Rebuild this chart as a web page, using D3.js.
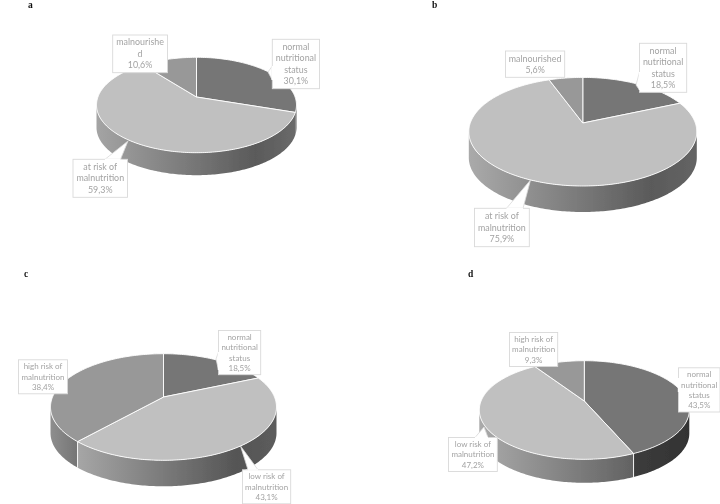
<!DOCTYPE html>
<html><head><meta charset="utf-8">
<script src="https://cdnjs.cloudflare.com/ajax/libs/d3/7.8.5/d3.min.js"></script>
<style>html,body{margin:0;padding:0;background:#fff}svg{display:block}</style>
</head><body><svg id="c" width="720" height="504"></svg>
<script>
// ---- data ----
const panelNames = ["a","b","c","d"];
const valuesA = [30.1,59.3,10.6];
const valuesB = [18.5,75.9,5.6];
const valuesC = [18.5,43.1,38.4];
const valuesD = [43.5,47.2,9.3];
const labelsA = [["normal","nutritional","status","30,1%"],["at risk of","malnutrition","59,3%"],["malnourishe","d","10,6%"]];
const labelsB = [["normal","nutritional","status","18,5%"],["at risk of","malnutrition","75,9%"],["malnourished","5,6%"]];
const labelsC = [["normal","nutritional","status","18,5%"],["low risk of","malnutrition","43,1%"],["high risk of","malnutrition","38,4%"]];
const labelsD = [["normal","nutritional","status","43,5%"],["low risk of","malnutrition","47,2%"],["high risk of","malnutrition","9,3%"]];
const sliceColors = ["#767676","#c0c0c0","#989898"];

// ---- layout ----
const layout = [
 {tx:28,ty:8,cx:196.5,cy:105,rx:100,ry:47.7,hub:97,depth:22.5,fs:8.9,lh:11.5,
  side:[["#6e6e6e","#5e5e5e"],["#a4a4a4","#5a5a5a","#6a6a6a"],["#999","#888"]],
  boxes:[[272.3,39.3,47.2,49.4],[73,159.3,54.5,38],[112.7,35,54.8,37.7]],
  tips:[[268,72,272.3,66,272.3,80],[128,141,105,159.3,120.5,159.3],null]},
 {tx:432,ty:8,cx:582.8,cy:131.7,rx:114,ry:54.3,hub:123,depth:26,fs:8.9,lh:11.5,
  side:[["#6e6e6e","#5e5e5e"],["#aaaaaa","#5a5a5a","#646464"],["#999","#888"]],
  boxes:[[639.5,43.3,47.2,49],[474.5,208.3,54.8,38.4],[505.5,51,59.2,26.3]],
  tips:[[636,85,639.5,72,639.5,90],[530.5,180,506.5,208.3,523,208.3],null]},
 {tx:24,ty:277,cx:163.5,cy:407,rx:113,ry:53.3,hub:397,depth:26,fs:8,lh:10.3,
  side:[["#6e6e6e","#5e5e5e"],["#a6a6a6","#555555","#5c5c5c"],["#8e8e8e","#757575"]],
  boxes:[[218.5,330.5,42.2,44.2],[242.5,469.8,48.2,34],[18.5,359.8,49,34]],
  tips:[[216,359,218.5,352,218.5,370],[240.5,446,248,469.8,258,469.8],null]},
 {tx:468,ty:277,cx:584.3,cy:410,rx:105,ry:49.3,hub:401,depth:23.5,fs:8,lh:10.3,
  side:[["#3c3c3c","#333333"],["#aaaaaa","#626262"],["#999","#888"]],
  boxes:[[678.5,367.8,41.5,44.2],[448.5,437.5,48.8,34],[509.5,332.5,48.2,34]],
  tips:[[683,385,678.5,378,678.5,392],[484,427,475,437.5,488,437.5],null]}
];
const allValues = [valuesA,valuesB,valuesC,valuesD];
const allLabels = [labelsA,labelsB,labelsC,labelsD];

const svg = d3.select("#c");
const defs = svg.append("defs");
defs.append("filter").attr("id","soft").attr("x","-5%").attr("y","-5%").attr("width","110%").attr("height","110%")
  .append("feGaussianBlur").attr("stdDeviation",0.35);
const root = svg.append("g").attr("filter","url(#soft)");
const pie = d3.pie().sort(null);
const tau = 2*Math.PI;

allValues.forEach((vals,pi)=>{
  const L = layout[pi];
  const g = root.append("g");
  const h = (L.hub-L.cy)/L.ry;               // perspective shift of the pie's hub
  const phi = a=>{
    const x=Math.sin(a), y=-Math.cos(a);
    const yy=(y+h)/(1+h*y), xx=x*Math.sqrt(1-h*h)/(1+h*y);
    let p=Math.atan2(xx,-yy);
    while(p<a-Math.PI) p+=tau;
    while(p>a+Math.PI) p-=tau;
    return p;
  };
  const px = p=>L.cx+L.rx*Math.sin(p), py = p=>L.cy-L.ry*Math.cos(p);
  const samples=(p0,p1)=>{
    const n=Math.max(2,Math.ceil(Math.abs(p1-p0)/0.02));
    return d3.range(n+1).map(i=>p0+(p1-p0)*i/n);
  };
  const line=d3.line();
  const arcs=pie(vals).map(d=>({v:d.value,i:d.index,p0:phi(d.startAngle),p1:phi(d.endAngle)}));

  // side walls
  arcs.forEach(s=>{
    const a=Math.max(s.p0,Math.PI/2), b=Math.min(s.p1,3*Math.PI/2);
    if(b<=a) return;
    const top=samples(a,b).map(p=>[px(p),py(p)]);
    const bottom=top.slice().reverse().map(q=>[q[0],q[1]+L.depth]);
    const id=`g${pi}_${s.i}`;
    const stops=L.side[s.i];
    const xs=top.map(q=>q[0]);
    const gr=defs.append("linearGradient").attr("id",id).attr("gradientUnits","userSpaceOnUse")
      .attr("x1",d3.min(xs)).attr("x2",d3.max(xs)).attr("y1",0).attr("y2",0);
    const off=stops.length===3?[0,0.8,1]:[0,1];
    stops.forEach((c,k)=>gr.append("stop").attr("offset",off[k]).attr("stop-color",c));
    g.append("path").attr("d",line(top.concat(bottom))+"Z").attr("fill",`url(#${id})`);
  });
  // white seams where a slice boundary meets the visible wall
  arcs.forEach(s=>{
    const p=((s.p1%tau)+tau)%tau;
    if(p>Math.PI/2 && p<3*Math.PI/2 && Math.abs(Math.sin(p))<0.97){
      g.append("path").attr("d",line([[px(p),py(p)],[px(p),py(p)+L.depth]]))
       .attr("stroke","#fff").attr("stroke-width",0.9);
    }
  });
  // top faces
  arcs.forEach(s=>{
    const pts=[[L.cx,L.hub]].concat(samples(s.p0,s.p1).map(p=>[px(p),py(p)]));
    g.append("path").attr("d",line(pts)+"Z").attr("fill",sliceColors[s.i])
      .attr("stroke","#fff").attr("stroke-width",0.9).attr("stroke-linejoin","round");
  });
  // callouts
  allLabels[pi].forEach((lines,i)=>{
    const [bx,by,bw,bh]=L.boxes[i], t=L.tips[i];
    if(t){
      g.append("path").attr("d",line([[t[0],t[1]],[t[2],t[3]],[t[4],t[5]]])+"Z")
       .attr("fill","#fff").attr("stroke","#d9d9d9").attr("stroke-width",0.8);
    }
    g.append("rect").attr("x",bx).attr("y",by).attr("width",bw).attr("height",bh)
      .attr("fill","#fff").attr("stroke","#d9d9d9").attr("stroke-width",0.9);
    if(t){
      g.append("path").attr("d",line([[t[2],t[3]],[t[4],t[5]]])).attr("stroke","#fff").attr("stroke-width",1.4);
    }
    const tx=bx+bw/2, y0=by+bh/2-(lines.length-1)*L.lh/2;
    const text=g.append("text").attr("text-anchor","middle")
      .attr("font-family","Lato,sans-serif").attr("font-size",L.fs).attr("fill","#a3a3a3");
    lines.forEach((s,k)=>text.append("tspan").attr("x",tx).attr("y",y0+k*L.lh).attr("dy","0.35em").text(s));
  });
  root.append("text").attr("x",L.tx).attr("y",L.ty).attr("font-family","'Liberation Serif',serif")
    .attr("font-weight","bold").attr("font-size",9.5).attr("fill","#111").text(panelNames[pi]);
});
</script></body></html>
